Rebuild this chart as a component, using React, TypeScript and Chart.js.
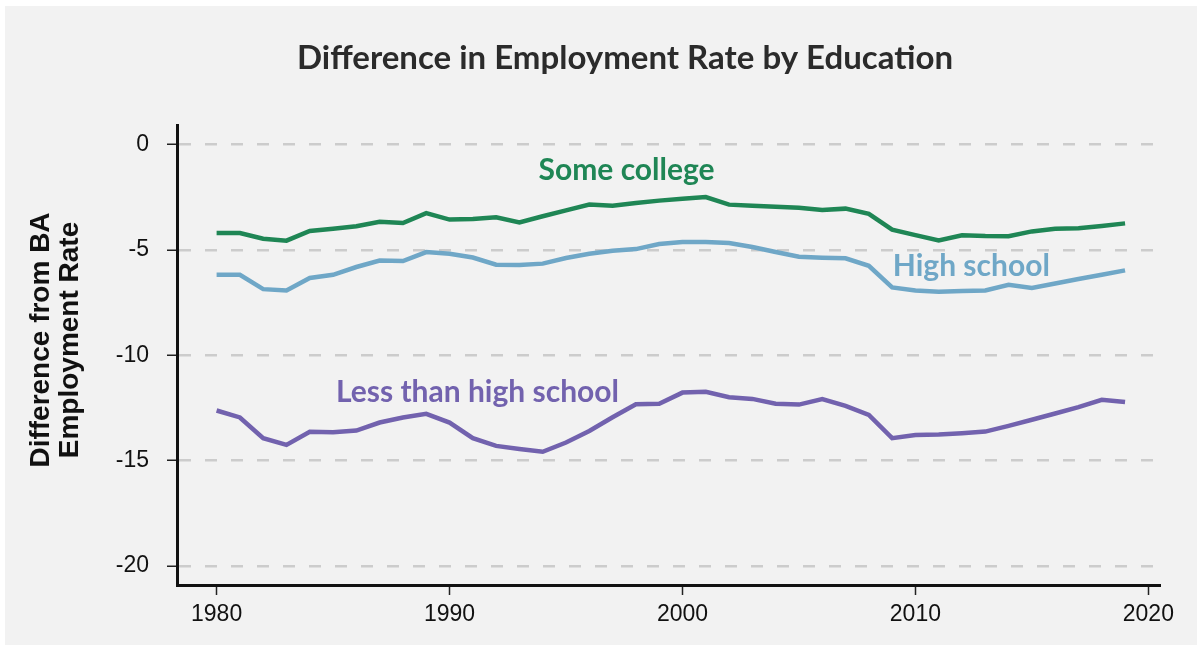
import React, { useEffect, useRef } from "react";
import { Chart, registerables } from "chart.js";

Chart.register(...registerables);

const years = [
  1980, 1981, 1982, 1983, 1984, 1985, 1986, 1987, 1988, 1989,
  1990, 1991, 1992, 1993, 1994, 1995, 1996, 1997, 1998, 1999,
  2000, 2001, 2002, 2003, 2004, 2005, 2006, 2007, 2008, 2009,
  2010, 2011, 2012, 2013, 2014, 2015, 2016, 2017, 2018, 2019,
];

const someCollege = [
  -4.2, -4.2, -4.47, -4.56, -4.1, -4.0, -3.88, -3.66, -3.72, -3.25,
  -3.56, -3.53, -3.45, -3.69, -3.4, -3.12, -2.85, -2.9, -2.77, -2.66,
  -2.57, -2.49, -2.85, -2.9, -2.95, -3.0, -3.1, -3.04, -3.29, -4.04,
  -4.3, -4.55, -4.3, -4.34, -4.35, -4.12, -4.0, -3.97, -3.86, -3.74,
];

const highSchool = [
  -6.18, -6.18, -6.86, -6.92, -6.33, -6.18, -5.81, -5.5, -5.53, -5.1,
  -5.18, -5.36, -5.7, -5.72, -5.65, -5.38, -5.18, -5.04, -4.96, -4.72,
  -4.62, -4.62, -4.67, -4.86, -5.1, -5.32, -5.37, -5.4, -5.75, -6.78,
  -6.92, -6.98, -6.95, -6.92, -6.65, -6.81, -6.59, -6.38, -6.18, -5.97,
];

const lessThanHighSchool = [
  -12.62, -12.95, -13.93, -14.25, -13.63, -13.65, -13.57, -13.19, -12.95, -12.78,
  -13.19, -13.93, -14.3, -14.45, -14.58, -14.14, -13.59, -12.94, -12.32, -12.3,
  -11.77, -11.73, -11.99, -12.07, -12.3, -12.34, -12.08, -12.4, -12.83, -13.93,
  -13.78, -13.76, -13.7, -13.62, -13.35, -13.06, -12.76, -12.46, -12.11, -12.22,
];

const seriesNames = ["Some college", "High school", "Less than high school"];
const seriesColors = ["#1f8655", "#6fa7c7", "#7262ae"];

const xTicks = [1980, 1990, 2000, 2010, 2020];
const yTicks = [0, -5, -10, -15, -20];

const chartTitle = "Difference in Employment Rate by Education";
const yTitle = ["Difference from BA", "Employment Rate"];

// label anchors in data units (centre of text)
const labelAnchors = [
  { x: 1997.6, y: -1.2 },
  { x: 2012.4, y: -5.8 },
  { x: 1991.2, y: -11.75 },
];

const backgroundPlugin = {
  id: "panelBg",
  beforeDraw(chart: any) {
    const ctx = chart.ctx;
    ctx.save();
    ctx.fillStyle = "#ffffff";
    ctx.fillRect(0, 0, chart.width, chart.height);
    ctx.fillStyle = "#f2f2f2";
    ctx.fillRect(5, 6, 1192, 639);
    ctx.restore();
  },
};

const labelsPlugin = {
  id: "seriesLabels",
  afterDatasetsDraw(chart: any) {
    const ctx = chart.ctx;
    const xs = chart.scales.x;
    const ys = chart.scales.y;
    ctx.save();
    ctx.font = "700 30px Lato";
    ctx.textAlign = "center";
    ctx.textBaseline = "middle";
    seriesNames.forEach((name, i) => {
      ctx.fillStyle = seriesColors[i];
      ctx.fillText(name, xs.getPixelForValue(labelAnchors[i].x), ys.getPixelForValue(labelAnchors[i].y));
    });
    ctx.restore();
  },
};

const yTitlePlugin = {
  id: "yTitle",
  afterDraw(chart: any) {
    const ctx = chart.ctx;
    ctx.save();
    ctx.font = "700 28px 'Liberation Sans'";
    ctx.fillStyle = "#111111";
    ctx.textAlign = "center";
    ctx.textBaseline = "middle";
    ctx.translate(41, 340);
    ctx.rotate(-Math.PI / 2);
    ctx.fillText(yTitle[0], 0, 0);
    ctx.fillText(yTitle[1], 0, 29);
    ctx.restore();
  },
};

export default function App() {
  const ref = useRef<HTMLCanvasElement | null>(null);

  useEffect(() => {
    document.body.style.margin = "0";
    const canvas = ref.current;
    if (!canvas) return;
    const datasets = [someCollege, highSchool, lessThanHighSchool].map((vals, i) => ({
      label: seriesNames[i],
      data: years.map((yr, j) => ({ x: yr, y: vals[j] })),
      borderColor: seriesColors[i],
      backgroundColor: seriesColors[i],
      borderWidth: 4.5,
      pointRadius: 0,
      tension: 0,
      fill: false,
    }));

    const chart = new Chart(canvas, {
      type: "line",
      data: { datasets },
      plugins: [backgroundPlugin, labelsPlugin, yTitlePlugin],
      options: {
        animation: false,
        responsive: false,
        maintainAspectRatio: false,
        layout: { padding: { top: 0, left: 90, right: 42, bottom: 0 } },
        plugins: {
          legend: { display: false },
          tooltip: { enabled: false },
          title: {
            display: true,
            text: chartTitle,
            color: "#2b2b2b",
            font: { family: "Lato", size: 33, weight: "bold", lineHeight: 1.2 },
            padding: { top: 39, bottom: 47 },
          },
        },
        scales: {
          x: {
            type: "linear",
            min: 1978.3,
            max: 2020.5,
            afterBuildTicks(scale: any) {
              scale.ticks = xTicks.map((v) => ({ value: v }));
            },
            afterFit(scale: any) {
              scale.height = 79;
            },
            ticks: {
              color: "#111111",
              font: { family: "'Liberation Sans'", size: 23 },
              padding: 6,
              maxRotation: 0,
              callback: (v: any) => String(v),
            },
            grid: {
              drawOnChartArea: false,
              drawTicks: true,
              tickLength: 10,
              tickColor: "#222222",
              tickWidth: 1.5,
            },
            border: { display: true, color: "#111111", width: 3 },
          },
          y: {
            type: "linear",
            min: -20.9,
            max: 0.9,
            afterBuildTicks(scale: any) {
              scale.ticks = yTicks.map((v) => ({ value: v }));
            },
            afterFit(scale: any) {
              scale.width = 87;
            },
            ticks: {
              color: "#111111",
              font: { family: "'Liberation Sans'", size: 23 },
              padding: 18,
              callback: (v: any) => String(v),
            },
            grid: {
              color: "#cccccc",
              lineWidth: 2.5,
              drawTicks: true,
              tickLength: 10,
              tickColor: "#222222",
              tickWidth: 1.5,
              tickBorderDash: [],
            },
            border: { display: true, color: "#111111", width: 3, dash: [12, 14] },
          },
        },
      },
    } as any);
    return () => chart.destroy();
  }, []);

  return (
    <div style={{ position: "absolute", left: 0, top: 0, width: 1202, height: 664 }}>
      <canvas ref={ref} width={1202} height={664} style={{ display: "block" }} />
    </div>
  );
}
